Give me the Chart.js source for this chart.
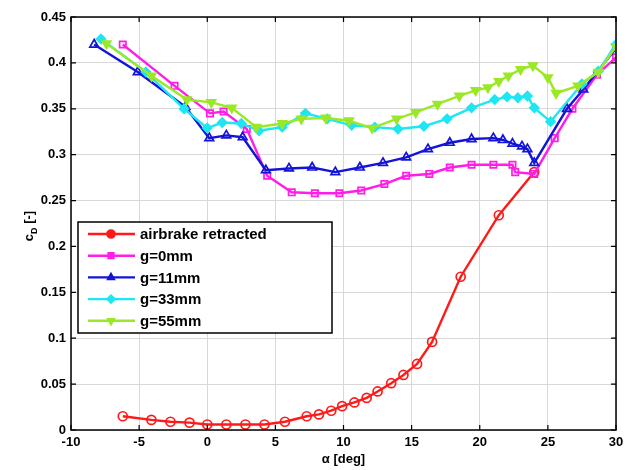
<!DOCTYPE html>
<html>
<head>
<meta charset="utf-8">
<script src="https://cdn.jsdelivr.net/npm/chart.js@4.4.1/dist/chart.umd.min.js"></script>
<style>
  body { margin: 0; background: #fff; }
  #wrap { width: 638px; height: 470px; }
</style>
</head>
<body>
<div id="wrap"><canvas id="myChart" width="638" height="470"></canvas></div>
<script>
// values

let redAlpha = [-6.2, -4.1, -2.7, -1.3, 0, 1.4, 2.8, 4.2, 5.7, 7.3, 8.2, 9.1, 9.9, 10.8, 11.7, 12.5, 13.5, 14.4, 15.4, 16.5, 18.6, 21.4, 24.0];
let redCd = [0.015, 0.011, 0.009, 0.008, 0.006, 0.006, 0.006, 0.006, 0.009, 0.015, 0.017, 0.021, 0.026, 0.030, 0.035, 0.042, 0.051, 0.060, 0.072, 0.096, 0.167, 0.234, 0.281];

let g0Alpha = [-6.2, -2.4, 0.2, 1.2, 2.9, 4.4, 6.2, 7.9, 9.7, 11.3, 13.0, 14.6, 16.3, 17.8, 19.4, 21.0, 22.4, 22.6, 24.0, 25.5, 26.8, 28.6, 30.0];
let g0Cd = [0.420, 0.375, 0.345, 0.347, 0.328, 0.277, 0.259, 0.258, 0.258, 0.261, 0.268, 0.277, 0.279, 0.286, 0.289, 0.289, 0.289, 0.281, 0.279, 0.318, 0.350, 0.387, 0.406];

let g11Alpha = [-8.3, -5.1, -1.6, 0.15, 1.4, 2.6, 4.3, 6.0, 7.7, 9.4, 11.2, 12.9, 14.6, 16.2, 17.8, 19.4, 21.0, 21.7, 22.4, 23.1, 23.5, 24.0, 26.4, 27.6, 30.0];
let g11Cd = [0.420, 0.390, 0.352, 0.318, 0.321, 0.319, 0.283, 0.285, 0.286, 0.281, 0.286, 0.291, 0.297, 0.306, 0.313, 0.317, 0.318, 0.316, 0.312, 0.309, 0.306, 0.291, 0.350, 0.371, 0.416];

let g33Alpha = [-7.8, -4.5, -1.7, 0, 1.1, 2.5, 3.8, 5.5, 7.2, 8.8, 10.6, 12.3, 14.0, 15.9, 17.6, 19.4, 21.1, 22.0, 22.8, 23.5, 24.0, 25.2, 27.5, 28.7, 30.0];
let g33Cd = [0.426, 0.390, 0.350, 0.329, 0.335, 0.334, 0.326, 0.330, 0.345, 0.339, 0.332, 0.330, 0.328, 0.331, 0.339, 0.351, 0.360, 0.363, 0.362, 0.364, 0.351, 0.336, 0.377, 0.391, 0.420];

let g55Alpha = [-7.4, -4.1, -1.5, 0.3, 1.8, 3.6, 5.5, 6.9, 8.7, 10.4, 12.1, 13.9, 15.3, 16.9, 18.5, 19.7, 20.6, 21.4, 22.1, 23.0, 23.9, 25.0, 25.6, 27.2, 28.7, 30.0];
let g55Cd = [0.421, 0.386, 0.360, 0.357, 0.351, 0.330, 0.334, 0.339, 0.340, 0.337, 0.329, 0.339, 0.346, 0.355, 0.364, 0.370, 0.373, 0.380, 0.386, 0.393, 0.397, 0.384, 0.367, 0.375, 0.390, 0.418];

let seriesNames = ['airbrake retracted', 'g=0mm', 'g=11mm', 'g=33mm', 'g=55mm'];

let xTicks = [-10, -5, 0, 5, 10, 15, 20, 25, 30];
let yTicks = [0, 0.05, 0.1, 0.15, 0.2, 0.25, 0.3, 0.35, 0.4, 0.45];

function pts(xs, ys) {
	return xs.map((x, i) => ({ x: x, y: ys[i] }));
}

const FONT = 'Liberation Sans, Arial, sans-serif';

let styles = [
	{ color: '#ff1a1a', point: 'circle', fill: 'rgba(0,0,0,0)', rot: 0, r: 4.5 },
	{ color: '#ff1ee6', point: 'rect', fill: 'rgba(0,0,0,0)', rot: 0, r: 4.5 },
	{ color: '#1414d8', point: 'triangle', fill: 'rgba(0,0,0,0)', rot: 0, r: 5 },
	{ color: '#1ee6f2', point: 'rectRot', fill: '#1ee6f2', rot: 0, r: 4.5 },
	{ color: '#9be826', point: 'triangle', fill: '#9be826', rot: 180, r: 5 }
];

let dataSets = [pts(redAlpha, redCd), pts(g0Alpha, g0Cd), pts(g11Alpha, g11Cd), pts(g33Alpha, g33Cd), pts(g55Alpha, g55Cd)];

let datasets = dataSets.map((d, i) => ({
	label: seriesNames[i],
	data: d,
	borderColor: styles[i].color,
	backgroundColor: styles[i].fill,
	borderWidth: 2.4,
	pointStyle: styles[i].point,
	pointRadius: styles[i].r,
	pointRotation: styles[i].rot,
	pointBorderWidth: 1.7,
	pointBorderColor: styles[i].color,
	pointBackgroundColor: styles[i].fill,
	order: 5 - i,
	tension: 0
}));

// box, inward ticks, y title, legend
const decor = {
	id: 'decor',
	afterDatasetsDraw(chart) {
		const c = chart.ctx;
		const a = chart.chartArea;
		const xs = chart.scales.x;
		const ys = chart.scales.y;
		c.save();
		c.strokeStyle = '#000';
		c.lineWidth = 1.5;
		c.strokeRect(a.left, a.top, a.right - a.left, a.bottom - a.top);
		c.lineWidth = 1.2;
		c.beginPath();
		xTicks.forEach(t => {
			let px = xs.getPixelForValue(t);
			c.moveTo(px, a.bottom); c.lineTo(px, a.bottom - 5);
			c.moveTo(px, a.top); c.lineTo(px, a.top + 5);
		});
		yTicks.forEach(t => {
			let py = ys.getPixelForValue(t);
			c.moveTo(a.left, py); c.lineTo(a.left + 5, py);
			c.moveTo(a.right, py); c.lineTo(a.right - 5, py);
		});
		c.stroke();

		// y axis title c_D [-]
		c.translate(29, 226);
		c.rotate(-Math.PI / 2);
		c.fillStyle = '#000';
		c.textBaseline = 'alphabetic';
		c.font = 'bold 13px ' + FONT;
		let w1 = c.measureText('c').width;
		c.font = 'bold 9px ' + FONT;
		let w2 = c.measureText('D').width;
		c.font = 'bold 13px ' + FONT;
		let w3 = c.measureText(' [-]').width;
		let x0 = -(w1 + w2 + w3) / 2;
		c.textAlign = 'left';
		c.fillText('c', x0, 4);
		c.font = 'bold 9px ' + FONT;
		c.fillText('D', x0 + w1, 8);
		c.font = 'bold 13px ' + FONT;
		c.fillText(' [-]', x0 + w1 + w2, 4);
		c.restore();

		// legend
		c.save();
		let bx = 78, by = 222, bw = 254, bh = 111;
		c.fillStyle = '#fff';
		c.fillRect(bx, by, bw, bh);
		c.strokeStyle = '#000';
		c.lineWidth = 1.5;
		c.strokeRect(bx, by, bw, bh);
		c.font = 'bold 15px ' + FONT;
		c.textBaseline = 'middle';
		c.textAlign = 'left';
		seriesNames.forEach((name, i) => {
			let yy = 234 + i * 21.7;
			let s = styles[i];
			c.strokeStyle = s.color;
			c.lineWidth = 2.4;
			c.beginPath();
			c.moveTo(88, yy); c.lineTo(135, yy);
			c.stroke();
			c.lineWidth = 1.6;
			c.fillStyle = s.color;
			Chart.helpers.drawPoint(c, { pointStyle: s.point, radius: 4, rotation: s.rot, borderWidth: 1.6 }, 111, yy);
			c.fill();
			c.fillStyle = '#000';
			c.fillText(name, 140, yy + 1);
		});
		c.restore();
	}
};

const ctx = document.getElementById('myChart').getContext('2d');
const myChart = new Chart(ctx, {
	type: 'line',
	data: { datasets: datasets },
	options: {
		responsive: false,
		animation: false,
		layout: { padding: { left: 0, right: 22, top: 17, bottom: 0 } },
		plugins: { legend: { display: false }, tooltip: { enabled: false } },
		scales: {
			x: {
				type: 'linear',
				min: -10,
				max: 30,
				afterBuildTicks: (s) => { s.ticks = xTicks.map(v => ({ value: v })); },
				afterFit: (s) => { s.height = 40; },
				grid: { color: '#d8d8d8', lineWidth: 1, drawTicks: false },
				border: { display: false },
				ticks: { color: '#000', padding: 5, font: { family: FONT, size: 13, weight: 'bold' } },
				title: { display: true, text: 'α [deg]', color: '#000', padding: { top: 0, bottom: 3 }, font: { family: FONT, size: 13, weight: 'bold' } }
			},
			y: {
				min: 0,
				max: 0.45,
				afterBuildTicks: (s) => { s.ticks = yTicks.map(v => ({ value: v })); },
				afterFit: (s) => { s.width = 71; },
				grid: { color: '#d8d8d8', lineWidth: 1, drawTicks: false },
				border: { display: false },
				ticks: {
					color: '#000', padding: 5, font: { family: FONT, size: 13, weight: 'bold' },
					callback: (v) => String(+v.toFixed(2))
				}
			}
		}
	},
	plugins: [decor]
});
</script>
</body>
</html>
